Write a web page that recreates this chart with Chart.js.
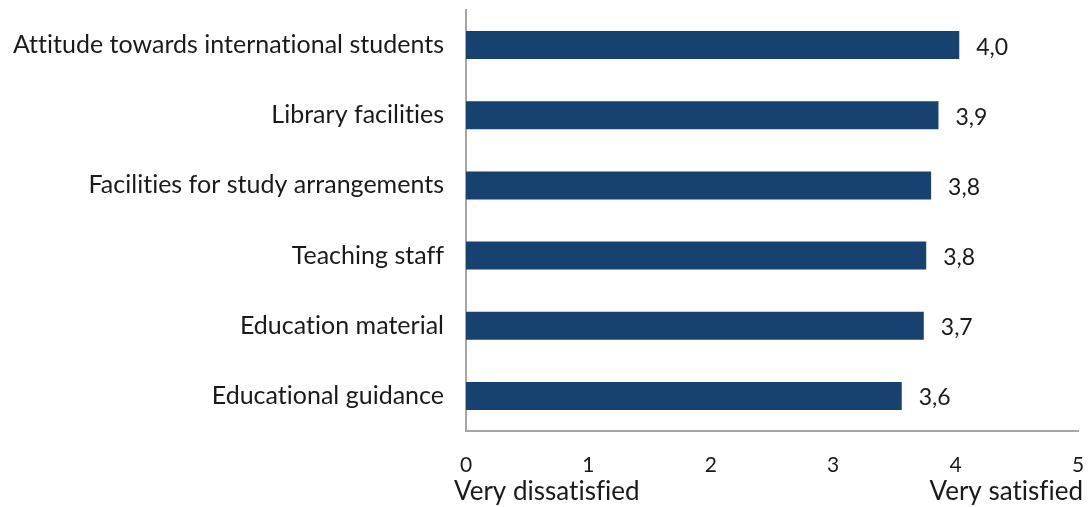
<!DOCTYPE html>
<html><head><meta charset="utf-8">
<script src="https://cdn.jsdelivr.net/npm/chart.js@4"></script>
<style>html,body{margin:0;padding:0;background:#fff}#wrap{width:1088px;height:507px}</style>
</head><body><div id="wrap"><canvas id="c" width="1088" height="507"></canvas></div>
<script>
const categories = ['Attitude towards international students','Library facilities','Facilities for study arrangements','Teaching staff','Education material','Educational guidance'];
const values = [4.03, 3.86, 3.80, 3.76, 3.74, 3.56];
const xTicks = [0,1,2,3,4,5];
const endLabels = ['Very dissatisfied','Very satisfied'];

const FONT = 'Lato';
const TXT = '#1a1a1a';
const barColor = '#17426f';
const axisColor = '#a6a6a6';

const noLigatures = {
  id:'noLigatures',
  beforeDraw(chart){
    const ctx = chart.ctx;
    try { ctx.textRendering = 'optimizeSpeed'; } catch(e){}
    try { ctx.letterSpacing = '0.01px'; } catch(e){}
  }
};
const valueLabels = {
  id:'valueLabels',
  afterDatasetsDraw(chart){
    const ctx = chart.ctx; const meta = chart.getDatasetMeta(0);
    ctx.save(); ctx.font = '23px ' + FONT; ctx.fillStyle = TXT;
    ctx.textAlign='left'; ctx.textBaseline='middle';
    meta.data.forEach((el,i)=>{
      ctx.fillText(values[i].toFixed(1).replace('.',','), el.x + 17, el.y+2);
    });
    ctx.restore();
  }
};
const endTitles = {
  id:'endTitles',
  afterDraw(chart){
    const ctx = chart.ctx; const x = chart.scales.x;
    ctx.save(); ctx.font = '26px ' + FONT; ctx.fillStyle = TXT; ctx.textBaseline='middle';
    ctx.textAlign='left'; ctx.fillText(endLabels[0], x.getPixelForValue(xTicks[0]) - 12, 492);
    ctx.textAlign='right'; ctx.fillText(endLabels[1], x.getPixelForValue(xTicks[xTicks.length-1]) + 5, 492);
    ctx.restore();
  }
};

new Chart(document.getElementById('c'), {
  type:'bar',
  data:{ labels: categories, datasets:[{ data: values, backgroundColor: barColor, borderWidth:0, categoryPercentage:1, barPercentage:0.4 }]},
  options:{
    indexAxis:'y', responsive:false, animation:false,
    layout:{ padding:{ top:10, right:10, left:0, bottom:0 } },
    plugins:{ legend:{display:false}, tooltip:{enabled:false} },
    scales:{
      x:{ min:0, max:5, afterBuildTicks(s){ s.ticks = xTicks.map(v=>({value:v})); },
        grid:{ display:false, drawTicks:false },
        border:{ display:true, color:axisColor, width:2 },
        ticks:{ color:TXT, font:{family:FONT, size:21}, padding:22, maxRotation:0 },
        afterFit(s){ s.height = 76; s.paddingLeft = 0; s.paddingRight = 0; } },
      y:{ grid:{ display:false, drawTicks:false },
        border:{ display:true, color:axisColor, width:2 },
        ticks:{ color:TXT, font:{family:FONT, size:25}, padding:22 },
        afterFit(s){ s.width = 466; s.paddingTop = 0; s.paddingBottom = 0; } }
    }
  },
  plugins:[noLigatures, valueLabels, endTitles]
});
</script></body></html>
